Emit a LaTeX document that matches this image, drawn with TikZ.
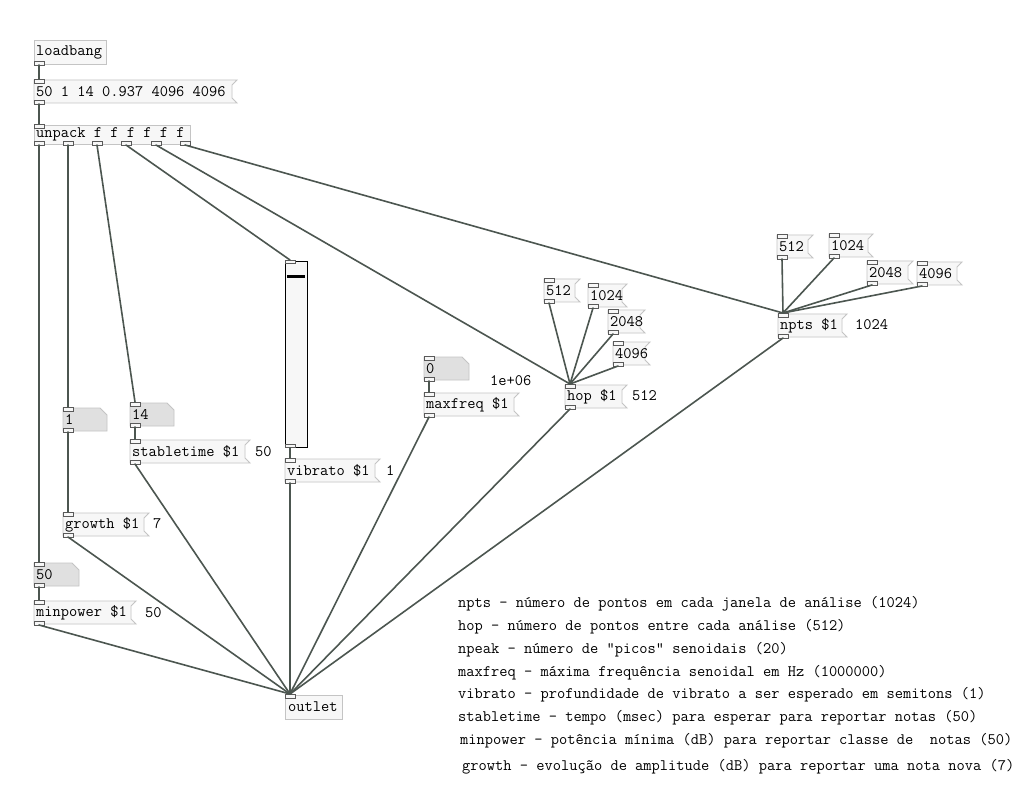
\documentclass[tikz,border=0pt]{standalone}
\usepackage{fontspec}
\usepackage{tikz}
\usetikzlibrary{calc}
\definecolor{wire}{HTML}{4C5650}
\definecolor{boxline}{HTML}{C4C4C4}
\definecolor{boxfill}{HTML}{F7F7F7}
\definecolor{atomfill}{HTML}{E0E0E0}
\definecolor{portline}{HTML}{5A5A5A}
\tikzset{
  obj/.style={draw=boxline, fill=boxfill, line width=0.9pt},
  atom/.style={draw=boxline, fill=atomfill, line width=0.9pt},
  port/.style={draw=portline, fill=boxfill, line width=0.7pt},
  wire/.style={draw=wire, line width=1.6pt, line cap=round},
  pdtext/.style={font=\ttfamily\fontsize{16}{18}\selectfont, inner sep=0pt, anchor=west},
}
\newcommand{\boxh}{23}
% object box: name, x, y, width, text
\newcommand{\pdobj}[5]{%
  \draw[obj] (#2,#3) rectangle ++(#4,\boxh);
  \node[pdtext] (#1) at (#2+2,#3+\boxh/2) {#5};
  \draw[port] (#2,#3-1) rectangle ++(10,4);
  \draw[port] (#2,#3+\boxh-3) rectangle ++(10,4);
  \coordinate (#1-in) at (#2+5,#3-1);
  \coordinate (#1-out) at (#2+5,#3+\boxh+1);
}
% message box
\newcommand{\pdmsg}[5]{%
  \draw[obj] (#2,#3) -- (#2+#4,#3) -- (#2+#4-5,#3+5) -- (#2+#4-5,#3+\boxh-5)
    -- (#2+#4,#3+\boxh) -- (#2,#3+\boxh) -- cycle;
  \node[pdtext] (#1) at (#2+2,#3+\boxh/2) {#5};
  \draw[port] (#2,#3-1) rectangle ++(10,4);
  \draw[port] (#2,#3+\boxh-3) rectangle ++(10,4);
  \coordinate (#1-in) at (#2+5,#3-1);
  \coordinate (#1-out) at (#2+5,#3+\boxh+1);
}
% number box
\newcommand{\pdnum}[5]{%
  \draw[atom] (#2,#3) -- (#2+#4-7,#3) -- (#2+#4,#3+7) -- (#2+#4,#3+\boxh)
    -- (#2,#3+\boxh) -- cycle;
  \node[pdtext] (#1) at (#2+2,#3+\boxh/2) {#5};
  \draw[port] (#2,#3-1) rectangle ++(10,4);
  \draw[port] (#2,#3+\boxh-3) rectangle ++(10,4);
  \coordinate (#1-in) at (#2+5,#3-1);
  \coordinate (#1-out) at (#2+5,#3+\boxh+1);
}

\begin{document}
\begin{tikzpicture}[x=1pt,y=-1pt]
  \fill[white] (0,0) rectangle (1028,794);
  \useasboundingbox (0,0) rectangle (1028,794);

  % top chain
  \draw[obj] (34,40) rectangle (106,64);
  \node[pdtext] (loadbang) at (36,52) {loadbang};
  \draw[port] (34,61) rectangle ++(10,4);
  \coordinate (loadbang-out) at (39,65);
  \pdmsg{init}{34}{80}{203}{50 1 14 0.937 4096 4096}
  \draw[obj] (34,125) rectangle (190,144);
  \node[pdtext] (unpack) at (36,134.5) {unpack f f f f f f};
  \draw[port] (34,124) rectangle ++(10,4);
  \coordinate (unpack-in) at (39,124);
  \foreach \i/\px in {0/34,1/63,2/92,3/121,4/151,5/180} {
    \draw[port] (\px,141) rectangle ++(10,4);
    \coordinate (unpack-o\i) at (\px+5,145);
  }

  % left column
  \pdnum{ngrowth}{63}{408}{44}{1}
  \pdmsg{growth}{63}{513}{86}{growth \$1}
  \node[pdtext] (growth-val) at (153,524) {7};
  \pdnum{nstable}{130}{403}{44}{14}
  \pdmsg{stabletime}{130}{440}{120}{stabletime \$1}
  \node[pdtext] (stabletime-val) at (255,452) {50};
  \pdnum{nminpower}{34}{563}{45}{50}
  \pdmsg{minpower}{34}{601}{102}{minpower \$1}
  \node[pdtext] (minpower-val) at (145,613) {50};

  % vibrato slider
  \node[draw=black, fill=boxfill, line width=1pt, inner sep=0pt, minimum width=22pt,
    minimum height=186pt, anchor=north west] (slider) at (285,261) {};
  \draw[black, line width=3pt] (287,277) -- (305,277);
  \draw[port] (285,260) rectangle ++(10,3);
  \draw[port] (285,444) rectangle ++(10,3);
  \coordinate (slider-in) at (290,260);
  \coordinate (slider-out) at (290,448);
  \pdmsg{vibrato}{285}{459}{95}{vibrato \$1}
  \node[pdtext] (vibrato-val) at (386,471) {1};

  % maxfreq
  \pdnum{nmaxfreq}{424}{357}{45}{0}
  \node[pdtext] (maxfreq-val) at (490,381) {1e+06};
  \pdmsg{maxfreq}{424}{393}{95}{maxfreq \$1}

  % hop
  \pdmsg{hopa}{544}{279}{36}{512}
  \pdmsg{hopb}{588}{284}{39}{1024}
  \pdmsg{hopc}{608}{310}{37}{2048}
  \pdmsg{hopd}{613}{342}{37}{4096}
  \pdmsg{hop}{565}{385}{62}{hop \$1}
  \node[pdtext] (hop-val) at (632,396) {512};

  % npts
  \pdmsg{nptsa}{777}{235}{36}{512}
  \pdmsg{nptsb}{829}{234}{44}{1024}
  \pdmsg{nptsc}{867}{261}{46}{2048}
  \pdmsg{nptsd}{917}{262}{45}{4096}
  \pdmsg{npts}{778}{314}{69}{npts \$1}
  \node[pdtext] (npts-val) at (855,325) {1024};

  % outlet
  \draw[obj] (285,695) rectangle (342,719);
  \node[pdtext] (outlet) at (288,707) {outlet};
  \draw[port] (285,694) rectangle ++(10,4);
  \coordinate (outlet-in) at (290,694);

  % connections
  \draw[wire] (loadbang-out) -- (init-in);
  \draw[wire] (init-out) -- (unpack-in);
  \draw[wire] (unpack-o0) -- (nminpower-in);
  \draw[wire] (unpack-o1) -- (ngrowth-in);
  \draw[wire] (unpack-o2) -- (nstable-in);
  \draw[wire] (unpack-o3) -- (slider-in);
  \draw[wire] (unpack-o4) -- (hop-in);
  \draw[wire] (unpack-o5) -- (npts-in);
  \draw[wire] (ngrowth-out) -- (growth-in);
  \draw[wire] (nstable-out) -- (stabletime-in);
  \draw[wire] (nminpower-out) -- (minpower-in);
  \draw[wire] (slider-out) -- (vibrato-in);
  \draw[wire] (nmaxfreq-out) -- (maxfreq-in);
  \foreach \m in {hopa,hopb,hopc,hopd} \draw[wire] (\m-out) -- (hop-in);
  \foreach \m in {nptsa,nptsb,nptsc,nptsd} \draw[wire] (\m-out) -- (npts-in);
  \foreach \m in {minpower,growth,stabletime,vibrato,maxfreq,hop,npts}
    \draw[wire] (\m-out) -- (outlet-in);

  % comments
  \node[pdtext] (c-npts) at (458,604) {npts - número de pontos em cada janela de análise (1024)};
  \node[pdtext] (c-hop) at (458,627) {hop - número de pontos entre cada análise (512)};
  \node[pdtext] (c-npeak) at (458,650) {npeak - número de "picos" senoidais (20)};
  \node[pdtext] (c-maxfreq) at (458,673) {maxfreq - máxima frequência senoidal em Hz (1000000)};
  \node[pdtext] (c-vibrato) at (458,695) {vibrato - profundidade de vibrato a ser esperado em semitons (1)};
  \node[pdtext] (c-stable) at (458,718) {stabletime - tempo (msec) para esperar para reportar notas (50)};
  \node[pdtext] (c-minpower) at (460,741) {minpower - potência mínima (dB) para reportar classe de\ \ notas (50)};
  \node[pdtext] (c-growth) at (462,767) {growth - evolução de amplitude (dB) para reportar uma nota nova (7)};
\end{tikzpicture}
\end{document}
